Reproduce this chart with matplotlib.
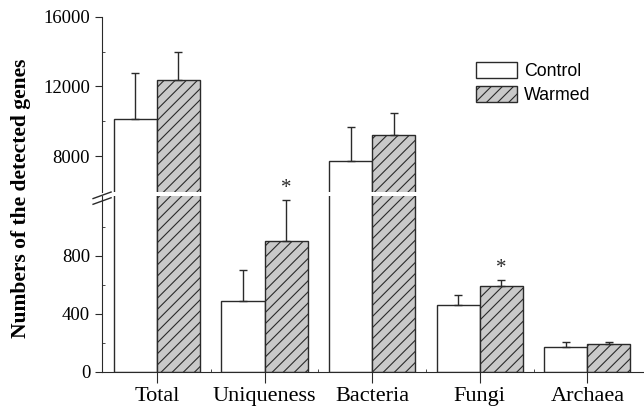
import matplotlib.pyplot as plt
import numpy as np
from matplotlib.ticker import FixedLocator

categories = ["Total", "Uniqueness", "Bacteria", "Fungi", "Archaea"]
control = [10130, 490, 7710, 460, 168]
control_err = [2650, 211, 1985, 67, 35]
warmed = [12370, 901, 9220, 593, 189]
warmed_err = [1610, 283, 1260, 37, 18]
stars = ["", "*", "", "*", ""]

serif = "Liberation Serif"
plt.rcParams["hatch.linewidth"] = 0.8

fig = plt.figure(figsize=(6.44, 4.09), dpi=100)
ax_top = fig.add_axes([0.1584, 0.5306, 0.8406, 0.4286])
ax_bot = fig.add_axes([0.1584, 0.0912, 0.8406, 0.4284])

x = np.arange(len(categories))
w = 0.4
edge = "#2a2a2a"

for ax in (ax_top, ax_bot):
    ax.bar(x - w / 2, control, w, color="white", edgecolor=edge, linewidth=1.0,
           label="Control", zorder=2)
    ax.bar(x + w / 2, warmed, w, color="#c9c9c9", edgecolor=edge, linewidth=1.0,
           hatch="///", label="Warmed", zorder=2)
    ax.errorbar(x - w / 2, control, yerr=[np.zeros(5), control_err], fmt="none",
                ecolor=edge, elinewidth=1.0, capsize=2.7, capthick=1.0, zorder=3)
    ax.errorbar(x + w / 2, warmed, yerr=[np.zeros(5), warmed_err], fmt="none",
                ecolor=edge, elinewidth=1.0, capsize=2.7, capthick=1.0, zorder=3)
    ax.set_xlim(-0.51, 4.52)
    ax.spines["top"].set_visible(False)
    ax.spines["right"].set_visible(False)
    ax.spines["left"].set_color(edge)
    ax.spines["bottom"].set_color(edge)
    ax.tick_params(axis="y", which="major", direction="out", length=5,
                   color=edge)
    ax.tick_params(axis="y", which="minor", direction="in", length=2.5, color=edge)

ax_top.set_ylim(5950, 16000)
ax_top.yaxis.set_major_locator(FixedLocator([8000, 12000, 16000]))
ax_top.yaxis.set_minor_locator(FixedLocator([10000, 14000]))
ax_top.spines["bottom"].set_visible(False)
ax_top.tick_params(axis="x", which="both", bottom=False, labelbottom=False)

ax_bot.set_ylim(0, 1208)
ax_bot.yaxis.set_major_locator(FixedLocator([0, 400, 800]))
ax_bot.yaxis.set_minor_locator(FixedLocator([200, 600, 1000]))
ax_bot.set_xticks(x)
ax_bot.set_xticklabels(categories, fontfamily=serif, fontsize=16)
ax_bot.xaxis.set_minor_locator(FixedLocator(x[:-1] + 0.5))
ax_bot.tick_params(axis="x", which="major", direction="out", length=8, color=edge, pad=3)
ax_bot.tick_params(axis="x", which="minor", direction="in", length=2, color=edge)

for ax in (ax_top, ax_bot):
    for lab in ax.get_yticklabels():
        lab.set_fontfamily(serif)
        lab.set_fontsize(13.5)

# significance marks
for i, s in enumerate(stars):
    if s:
        ax_bot.text(x[i] + w / 2, warmed[i] + warmed_err[i] + 15, s, ha="center",
                    va="bottom", fontsize=15, fontfamily=serif, color=edge)

# axis break marks
for yy in (0.5225, 0.5085):
    fig.add_artist(plt.Line2D([0.1445, 0.1725], [yy - 0.008, yy + 0.008],
                              color=edge, linewidth=1.0))

fig.text(0.033, 0.515, "Numbers of the detected genes", rotation=90, ha="center",
         va="center", fontsize=15.5, fontweight="bold", fontfamily=serif)

ax_top.legend(loc="upper left", bbox_to_anchor=(0.675, 0.79), frameon=False,
              prop={"family": "Liberation Sans", "size": 12.8}, handlelength=2.3,
              handleheight=1.0, handletextpad=0.4, labelspacing=0.3, borderpad=0)

fig.savefig("out.png", dpi=100)
